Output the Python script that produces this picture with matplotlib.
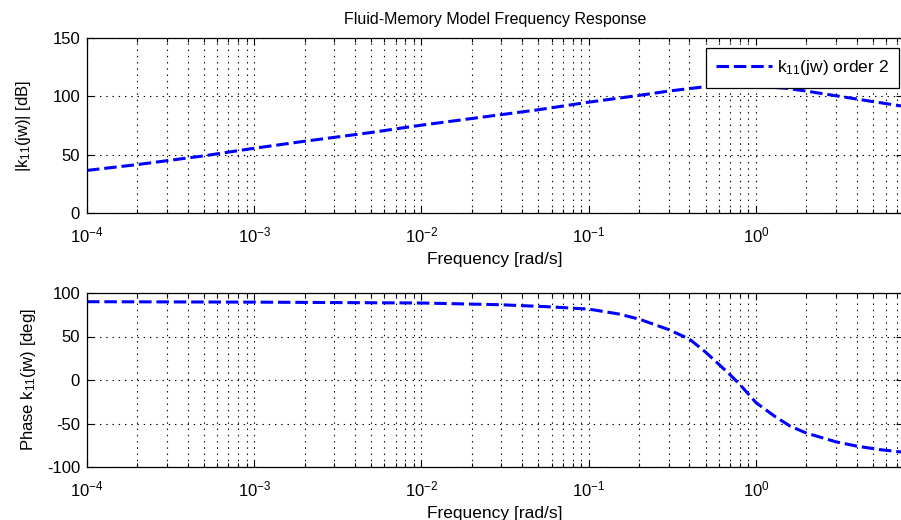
import numpy as np
import matplotlib
matplotlib.use("Agg")
import matplotlib.pyplot as plt

# ================= DATA =================

freq = [1e-4, 2e-4, 5e-4, 1e-3, 2e-3, 5e-3, 1e-2, 2e-2, 5e-2, 1e-1,
        2e-1, 3e-1, 5e-1, 7e-1, 1.0, 1.5, 2.0, 3.0, 4.0, 5.0, 7.6]

mag_db = [36.5, 41.5, 49.0, 55.5, 61.5, 69.0, 75.3, 81.0, 88.5, 95.0,
          100.8, 104.5, 108.3, 109.0, 108.5, 107.0, 104.5, 100.5, 97.7, 95.5, 91.5]

phase_freq = [1e-4, 1e-3, 1e-2, 3e-2, 6e-2, 1e-1, 1.5e-1, 2e-1, 3e-1, 4e-1,
              5e-1, 6e-1, 7e-1, 8e-1, 1.0, 1.3, 1.6, 2.0, 3.0, 4.0, 5.5, 7.6]

phase_deg = [90.0, 89.5, 88.5, 86.5, 84.0, 81.5, 76.0, 70.0, 58.0, 47.0,
             32.0, 18.0, 6.0, -5.0, -26.0, -42.0, -53.0, -61.0, -71.0, -76.0, -80.0, -83.0]

xlim = (1e-4, 7.6)

# ================= STYLE =================

plt.rcParams["font.family"] = ["Liberation Sans", "DejaVu Sans"]
plt.rcParams["mathtext.fontset"] = "custom"
plt.rcParams["mathtext.rm"] = "Liberation Sans"
plt.rcParams["mathtext.it"] = "Liberation Sans"
plt.rcParams["font.size"] = 12
plt.rcParams["axes.unicode_minus"] = False
plt.rcParams["lines.scale_dashes"] = False

fig = plt.figure(figsize=(9.01, 5.2), dpi=100)

W, H = 901.0, 520.0
left = 87 / W
width = (903.3 - 87) / W

ax1 = fig.add_axes([left, (H - 213) / H, width, 175 / H])
ax2 = fig.add_axes([left, (H - 467) / H, width, 174 / H])


def style_axis(ax):
    ax.set_xscale("log")
    ax.set_xlim(*xlim)
    ax.grid(True, which="major", color="black", linestyle=(0, (1, 3.5)), linewidth=0.8)
    ax.grid(True, which="minor", axis="x", color="black", linestyle=(0, (1, 3.5)), linewidth=0.8)
    ax.tick_params(which="both", direction="in", top=True, right=True, width=0.8)
    ax.tick_params(which="major", length=5)
    ax.tick_params(which="minor", length=3)
    ax.tick_params(axis="y", labelsize=12, pad=5)
    ax.tick_params(axis="x", labelsize=12, pad=9)
    for s in ax.spines.values():
        s.set_linewidth(0.9)
    ax.set_xlabel("Frequency [rad/s]", fontsize=12.5, labelpad=5)


# ================= MAGNITUDE =================

ax1.plot(freq, mag_db, color="blue", linewidth=2.2, dashes=(9, 3.5),
         label="k$_{11}$(jw) order 2")
style_axis(ax1)
ax1.set_ylim(0, 150)
ax1.set_yticks([0, 50, 100, 150])
ax1.set_ylabel("|k$_{11}$(jw)| [dB]", fontsize=12, labelpad=14)
ax1.set_title("Fluid-Memory Model Frequency Response", fontsize=11.5, pad=10)

leg = ax1.legend(loc="upper right", bbox_to_anchor=(899 / W, 1 - 48 / H),
                 bbox_transform=fig.transFigure, borderaxespad=0,
                 fancybox=False, framealpha=1, edgecolor="black",
                 handlelength=3.2, handletextpad=0.3, borderpad=0.6,
                 fontsize=12.5)
leg.get_frame().set_linewidth(0.9)

# ================= PHASE =================

ax2.plot(phase_freq, phase_deg, color="blue", linewidth=2.2, dashes=(9, 3.5))
style_axis(ax2)
ax2.set_ylim(-100, 100)
ax2.set_yticks([-100, -50, 0, 50, 100])
ax2.set_ylabel("Phase k$_{11}$(jw) [deg]", fontsize=12, labelpad=6)

fig.savefig("out.png", dpi=100)
